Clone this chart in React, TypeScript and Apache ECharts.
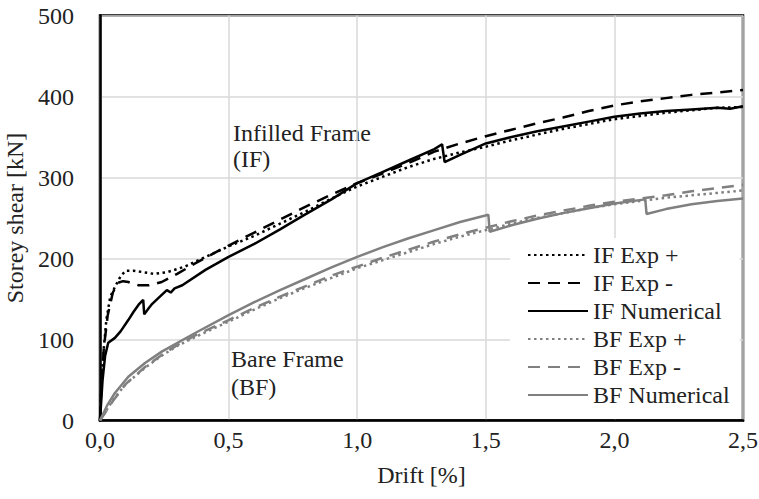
import React, { useEffect, useRef } from "react";
import * as echarts from "echarts";

const seriesNames = ["IF Exp +", "IF Exp -", "IF Numerical", "BF Exp +", "BF Exp -", "BF Numerical"];

const xTickLabels = ["0,0", "0,5", "1,0", "1,5", "2,0", "2,5"];
const yTickLabels = ["0", "100", "200", "300", "400", "500"];

const ifExpPlus: number[][] = [
  [0, 0], [0.005, 40], [0.015, 90], [0.025, 125], [0.04, 153], [0.06, 166], [0.08, 178], [0.1, 185],
  [0.13, 185], [0.17, 183], [0.21, 181], [0.26, 183], [0.33, 190], [0.41, 202], [0.5, 215], [0.6, 228],
  [0.7, 243], [0.8, 258], [0.9, 274], [1.0, 289], [1.1, 301], [1.2, 313], [1.3, 323], [1.4, 331],
  [1.5, 338], [1.6, 346], [1.7, 353], [1.8, 360], [1.9, 366], [2.0, 372], [2.1, 376], [2.2, 380],
  [2.3, 383], [2.4, 386], [2.5, 387],
];

const ifExpMinus: number[][] = [
  [0, 0], [0.005, 40], [0.015, 90], [0.03, 130], [0.05, 158], [0.07, 170], [0.09, 172], [0.11, 171],
  [0.15, 167], [0.19, 167], [0.24, 171], [0.3, 181], [0.37, 194], [0.44, 206], [0.5, 216], [0.6, 232],
  [0.7, 248], [0.8, 264], [0.9, 279], [1.0, 293], [1.1, 305], [1.2, 318], [1.3, 332], [1.4, 342],
  [1.5, 351], [1.6, 359], [1.7, 367], [1.8, 374], [1.9, 382], [2.0, 389], [2.1, 394], [2.2, 398],
  [2.3, 402], [2.4, 405], [2.5, 408],
];

const ifNumerical: number[][] = [
  [0, 0], [0.01, 50], [0.02, 80], [0.032, 96], [0.058, 102], [0.08, 110], [0.11, 124], [0.13, 134],
  [0.15, 143], [0.168, 149], [0.172, 131], [0.19, 139], [0.2, 143], [0.24, 155], [0.26, 161],
  [0.275, 158], [0.29, 163], [0.32, 167], [0.41, 186], [0.5, 202], [0.6, 218], [0.7, 236], [0.79, 253],
  [0.9, 273], [1.0, 293], [1.1, 307], [1.2, 321], [1.3, 335], [1.33, 341], [1.34, 319], [1.4, 328],
  [1.5, 342], [1.6, 350], [1.7, 357], [1.8, 363], [1.9, 369], [2.0, 375], [2.1, 379], [2.2, 382],
  [2.3, 384], [2.4, 386], [2.45, 385], [2.5, 388],
];

const bfExpPlus: number[][] = [
  [0, 0], [0.05, 25], [0.1, 45], [0.175, 65], [0.24, 80], [0.3, 92], [0.37, 103], [0.5, 122],
  [0.6, 137], [0.7, 151], [0.8, 164], [0.9, 176], [1.0, 188], [1.1, 198], [1.2, 208], [1.3, 218],
  [1.4, 227], [1.5, 235], [1.6, 243], [1.7, 250], [1.8, 256], [1.9, 262], [2.0, 267], [2.1, 271],
  [2.2, 275], [2.3, 278], [2.4, 281], [2.5, 284],
];

const bfExpMinus: number[][] = [
  [0, 0], [0.05, 24], [0.1, 45], [0.175, 66], [0.24, 81], [0.3, 93], [0.37, 105], [0.5, 124],
  [0.6, 139], [0.7, 153], [0.8, 166], [0.9, 179], [1.0, 190], [1.1, 201], [1.2, 211], [1.3, 221],
  [1.4, 230], [1.5, 238], [1.6, 246], [1.7, 253], [1.8, 259], [1.9, 265], [2.0, 270], [2.1, 274],
  [2.2, 278], [2.3, 283], [2.4, 287], [2.5, 291],
];

const bfNumerical: number[][] = [
  [0, 0], [0.03, 20], [0.058, 34], [0.11, 54], [0.175, 71], [0.24, 85], [0.37, 108], [0.5, 130],
  [0.6, 146], [0.7, 161], [0.8, 175], [0.9, 189], [1.0, 202], [1.1, 214], [1.2, 225], [1.3, 235],
  [1.4, 245], [1.51, 254], [1.515, 233], [1.6, 241], [1.7, 249], [1.8, 256], [1.9, 262], [2.0, 268],
  [2.12, 273], [2.125, 255], [2.2, 261], [2.3, 267], [2.4, 271], [2.5, 274],
];

const FONT = "Liberation Serif";
const TEXT_COLOR = "#222";
const BLACK = "#000";
const GRAY = "#808080";

export default function App() {
  const ref = useRef<HTMLDivElement>(null);

  useEffect(() => {
    if (!ref.current) return;
    const chart = echarts.init(ref.current, undefined, { renderer: "svg" });

    const mk = (name: string, data: number[][], color: string, type: any) => ({
      name,
      type: "line",
      data,
      symbol: "none",
      showSymbol: false,
      smooth: false,
      lineStyle: { color, width: 2.5, type },
      itemStyle: { color, opacity: 0 },
      emphasis: { disabled: true },
    });

    const dotted = [2.5, 3.5];
    const dashed = [12, 8];

    chart.setOption({
      animation: false,
      backgroundColor: "#fff",
      textStyle: { fontFamily: FONT },
      grid: {
        left: 100,
        right: 16,
        top: 15.5,
        bottom: 78.5,
        containLabel: false,
        outerBoundsMode: "none",
        show: true,
        borderColor: BLACK,
        borderWidth: 2.5,
        backgroundColor: "transparent",
      },
      xAxis: {
        type: "value",
        min: 0,
        max: 2.5,
        interval: 0.5,
        name: "Drift [%]",
        nameLocation: "middle",
        nameGap: 42,
        nameTextStyle: { fontFamily: FONT, fontSize: 24, color: TEXT_COLOR },
        axisLine: { show: true, lineStyle: { color: BLACK, width: 2.5 } },
        axisTick: { show: false },
        axisLabel: {
          fontFamily: FONT,
          fontSize: 24,
          color: TEXT_COLOR,
          margin: 7,
          formatter: (v: number) => xTickLabels[Math.round(v / 0.5)] ?? "",
        },
        splitLine: { show: true, lineStyle: { color: "#d9d9d9", width: 1.5 } },
      },
      yAxis: {
        type: "value",
        min: 0,
        max: 500,
        interval: 100,
        name: "Storey shear [kN]",
        nameLocation: "middle",
        nameGap: 70,
        nameTextStyle: { fontFamily: FONT, fontSize: 24, color: TEXT_COLOR },
        axisLine: { show: true, lineStyle: { color: BLACK, width: 2.5 } },
        axisTick: { show: false },
        axisLabel: {
          fontFamily: FONT,
          fontSize: 24,
          color: TEXT_COLOR,
          margin: 26,
          formatter: (v: number) => yTickLabels[Math.round(v / 100)] ?? "",
        },
        splitLine: { show: true, lineStyle: { color: "#d9d9d9", width: 1.5 } },
      },
      legend: {
        data: seriesNames,
        orient: "vertical",
        left: 510,
        top: 238,
        padding: [5, 10, 12, 17],
        itemWidth: 60,
        itemHeight: 14,
        itemGap: 4,
        backgroundColor: "#fff",
        itemStyle: { opacity: 0 },
        textStyle: { fontFamily: FONT, fontSize: 24, color: TEXT_COLOR, lineHeight: 24 },
        selectedMode: false,
      },
      graphic: [
        {
          type: "text",
          left: 233,
          top: 121,
          style: { text: "Infilled Frame", font: `24px "${FONT}"`, fill: TEXT_COLOR },
        },
        {
          type: "text",
          left: 233,
          top: 147,
          style: { text: "(IF)", font: `24px "${FONT}"`, fill: TEXT_COLOR },
        },
        {
          type: "text",
          left: 231,
          top: 347,
          style: { text: "Bare Frame", font: `24px "${FONT}"`, fill: TEXT_COLOR },
        },
        {
          type: "text",
          left: 231,
          top: 375,
          style: { text: "(BF)", font: `24px "${FONT}"`, fill: TEXT_COLOR },
        },
      ],
      series: [
        mk(seriesNames[0], ifExpPlus, BLACK, dotted),
        mk(seriesNames[1], ifExpMinus, BLACK, dashed),
        mk(seriesNames[2], ifNumerical, BLACK, "solid"),
        mk(seriesNames[3], bfExpPlus, GRAY, dotted),
        mk(seriesNames[4], bfExpMinus, GRAY, dashed),
        mk(seriesNames[5], bfNumerical, GRAY, "solid"),
      ],
    });

    return () => chart.dispose();
  }, []);

  return (
    <div
      ref={ref}
      style={{ position: "absolute", left: 0, top: 0, width: 759, height: 499 }}
    />
  );
}
